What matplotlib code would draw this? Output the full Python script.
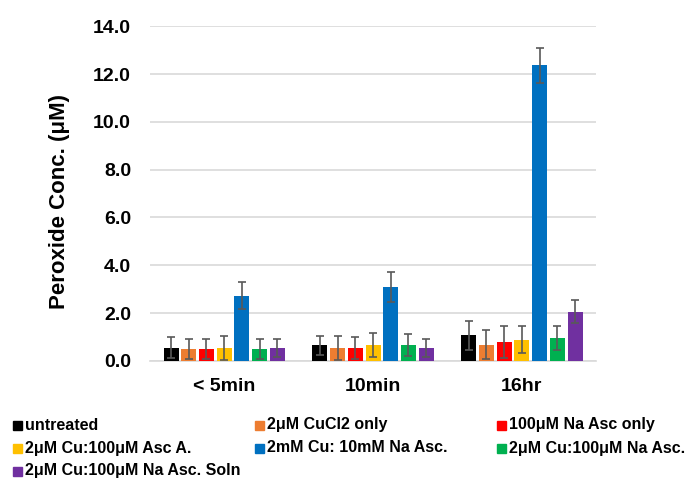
import numpy as np
import matplotlib
matplotlib.use('Agg')
import matplotlib.pyplot as plt
from matplotlib.patches import Rectangle

plt.rcParams['font.family'] = ['Liberation Sans', 'DejaVu Sans']

# DATA
groups = ['< 5min', '10min', '16hr']
series = ['untreated', '2μM CuCl2 only', '100μM Na Asc only',
          '2μM Cu:100μM Asc A.', '2mM Cu: 10mM Na Asc.', '2μM Cu:100μM Na Asc.',
          '2μM Cu:100μM Na Asc. Soln']
colors = ['#000000', '#ED7D31', '#FF0000', '#FFC000', '#0070C0', '#00B050', '#7030A0']

untreated   = [0.55, 0.65, 1.07]
cucl2       = [0.50, 0.55, 0.67]
na_asc      = [0.50, 0.55, 0.79]
asc_a       = [0.55, 0.65, 0.89]
cu_10mm     = [2.72, 3.10, 12.37]
cu_na_asc   = [0.50, 0.67, 0.95]
cu_soln     = [0.55, 0.54, 2.06]

err_untreated = [0.44, 0.40, 0.61]
err_cucl2     = [0.42, 0.50, 0.61]
err_na_asc    = [0.42, 0.45, 0.67]
err_asc_a     = [0.50, 0.50, 0.57]
err_cu_10mm   = [0.56, 0.62, 0.74]
err_cu_na_asc = [0.42, 0.45, 0.51]
err_cu_soln   = [0.38, 0.39, 0.49]

values = [untreated, cucl2, na_asc, asc_a, cu_10mm, cu_na_asc, cu_soln]
errors = [err_untreated, err_cucl2, err_na_asc, err_asc_a, err_cu_10mm, err_cu_na_asc, err_cu_soln]

fig = plt.figure(figsize=(6.87, 4.78), dpi=100)
ax = fig.add_axes([0.218, 0.245, 0.650, 0.700])

x = np.arange(len(groups))
pitch = 0.119
width = 0.101
for i, (vals, errs) in enumerate(zip(values, errors)):
    pos = x + (i - 3) * pitch
    ax.bar(pos, vals, width=width, color=colors[i], zorder=3)
    ax.errorbar(pos, vals, yerr=errs, fmt='none', ecolor='#595959',
                elinewidth=1.2, capsize=3, capthick=1.2, zorder=4)

ax.set_xlim(-0.5, 2.5)
ax.set_ylim(0, 14)
ax.set_yticks(np.arange(0, 14.1, 2))
ax.set_yticklabels(['%.1f' % v for v in np.arange(0, 14.1, 2)],
                   fontsize=14, fontweight='bold')
ax.set_xticks(x)
ax.set_xticklabels(groups, fontsize=14, fontweight='bold')
ax.tick_params(axis='x', length=0, pad=12)
ax.tick_params(axis='y', length=0, pad=13.5)
ax.set_ylabel('Peroxide Conc. (μM)', fontsize=16, fontweight='bold', va='center')
ax.yaxis.set_label_coords(-0.202, 0.476)

ax.grid(axis='y', color='#D9D9D9', linewidth=1.2, zorder=0)
for s in ['top', 'right', 'left']:
    ax.spines[s].set_visible(False)
ax.spines['bottom'].set_color('#D9D9D9')
ax.spines['bottom'].set_linewidth(1.2)

# legend, filled row by row like the original
col_x = [13, 255, 497]
row_y = [425, 448, 471]
W, H = 687.0, 478.0
for i, name in enumerate(series):
    r, c = divmod(i, 3)
    px, py = col_x[c], row_y[r]
    fig.patches.append(Rectangle((px / W, (H - py - 4.5) / H), 9 / W, 9 / H,
                                 transform=fig.transFigure, color=colors[i]))
    fig.text((px + 12) / W, (H - py) / H, name, fontsize=11.5, fontweight='bold',
             va='center', ha='left')

fig.savefig('out.png', dpi=100)
